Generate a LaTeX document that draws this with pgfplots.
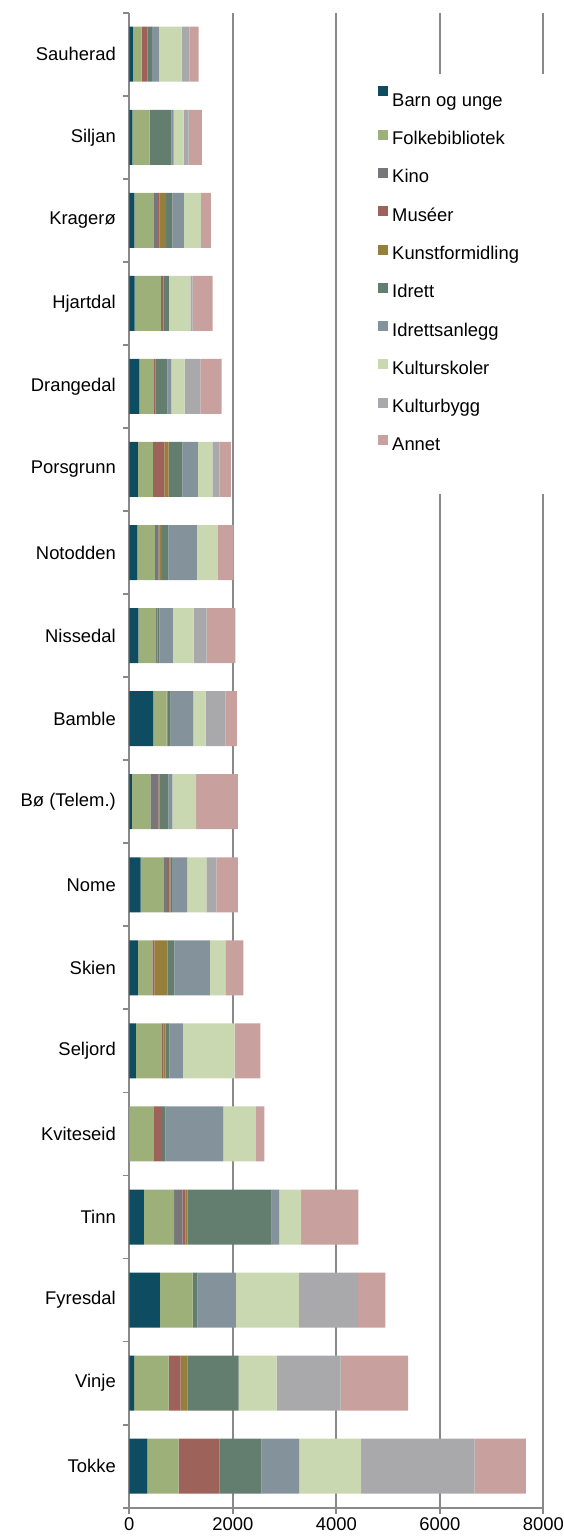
\documentclass[border=0pt]{standalone}
\usepackage{fontspec}
\setmainfont{Liberation Sans}
\usepackage{pgfplots}
\pgfplotsset{compat=1.18}
\usepackage{pgfplotstable}
\definecolor{cBarn}{RGB}{14,76,98}
\definecolor{cFolk}{RGB}{157,176,121}
\definecolor{cKino}{RGB}{119,119,121}
\definecolor{cMus}{RGB}{157,98,90}
\definecolor{cKunst}{RGB}{149,127,59}
\definecolor{cIdr}{RGB}{99,125,111}
\definecolor{cAnl}{RGB}{132,146,156}
\definecolor{cSkol}{RGB}{202,216,178}
\definecolor{cBygg}{RGB}{169,169,171}
\definecolor{cAnn}{RGB}{200,160,157}
\definecolor{axgray}{RGB}{137,137,137}

\pgfplotstableread{
y barn folk kino mus kunst idr anl skol bygg ann
0 348 606 0 785 0 811 734 1198 2191 991
1 91 670 0 232 128 993 0 734 1236 1306
2 593 632 0 0 0 89 747 1218 1145 522
3 284 580 160 66 38 1623 143 425 0 1107
4 0 464 0 168 0 64 1120 632 0 160
5 129 489 0 39 39 77 264 999 0 495
6 168 276 0 39 259 127 690 296 0 348
7 220 450 58 45 20 32 290 373 193 419
8 52 354 154 25 13 156 77 458 0 811
9 458 264 0 20 0 58 437 239 379 226
10 174 342 25 0 0 39 264 400 251 553
11 155 341 70 20 45 122 555 406 0 303
12 168 289 0 219 82 266 303 276 136 226
13 193 271 0 46 0 224 77 259 302 413
14 104 508 0 52 0 103 0 412 46 386
15 97 380 77 26 129 122 226 328 0 193
16 58 336 0 0 0 417 46 193 97 257
17 71 169 0 108 0 90 135 439 148 181
}\data

\newcommand{\legw}[1]{\makebox[160pt][l]{\rule{0pt}{25pt}#1}}

\begin{document}
\begin{tikzpicture}
\begin{axis}[
  name=a,
  scale only axis,
  width=414pt, height=1495pt,
  xbar stacked,
  bar width=55pt,
  xmin=0, xmax=8000,
  ymin=-0.5, ymax=17.5,
  xtick={0,2000,...,8000},
  ytick={0,...,17},
  yticklabels={Tokke,Vinje,Fyresdal,Tinn,Kviteseid,Seljord,Skien,Nome,Bø (Telem.),Bamble,Nissedal,Notodden,Porsgrunn,Drangedal,Hjartdal,Kragerø,Siljan,Sauherad},
  minor ytick={-0.5,0.5,...,17.5},
  tick align=outside,
  major tick length=6pt,
  minor tick length=6pt,
  major y tick style={draw=none},
  axis x line*=bottom,
  axis y line*=left,
  axis line style={-, draw=axgray, line width=1.8pt},
  tick style={draw=axgray, line width=1.8pt},
  xmajorgrids,
  major x grid style={draw=axgray, line width=1.8pt},
  /pgf/number format/assume math mode=true,
  /pgf/number format/1000 sep={},
  ticklabel style={font=\fontsize{18.4}{22}\selectfont, text=black},
  yticklabel style={xshift=-4pt},
  legend style={
    at={(0.596,0.9590)}, anchor=north west,
    draw=none, fill=white,
    font=\fontsize{18.4}{22}\selectfont,
    row sep=19.4pt,
    inner xsep=2pt, inner ysep=0pt,
    legend cell align=left,
  },
  legend image code/.code={\path[draw=none,fill=none] (0pt,0pt) -- (12pt,0pt);\fill[#1,draw=none] (0pt,-1pt) rectangle (10pt,9pt);},
]
\addplot[fill=cBarn, draw=none, legend image code/.code={\path[draw=none,fill=none] (0pt,0pt) -- (12pt,0pt);\path[draw=none,fill=none] (0pt,20.5pt) -- (0pt,-1pt);\fill[##1,draw=none] (0pt,-1pt) rectangle (10pt,9pt);}] table[x=barn, y=y] {\data};
\addlegendentry{\legw{Barn og unge}}
\addplot[fill=cFolk, draw=none] table[x=folk, y=y] {\data};
\addlegendentry{Folkebibliotek}
\addplot[fill=cKino, draw=none] table[x=kino, y=y] {\data};
\addlegendentry{Kino}
\addplot[fill=cMus, draw=none] table[x=mus, y=y] {\data};
\addlegendentry{Muséer}
\addplot[fill=cKunst, draw=none] table[x=kunst, y=y] {\data};
\addlegendentry{Kunstformidling}
\addplot[fill=cIdr, draw=none] table[x=idr, y=y] {\data};
\addlegendentry{Idrett}
\addplot[fill=cAnl, draw=none] table[x=anl, y=y] {\data};
\addlegendentry{Idrettsanlegg}
\addplot[fill=cSkol, draw=none] table[x=skol, y=y] {\data};
\addlegendentry{Kulturskoler}
\addplot[fill=cBygg, draw=none] table[x=bygg, y=y] {\data};
\addlegendentry{Kulturbygg}
\addplot[fill=cAnn, draw=none] table[x=ann, y=y] {\data};
\addlegendentry{Annet}
\addlegendimage{empty legend}
\addlegendentry{\strut}
\end{axis}
\pgfresetboundingbox
\path ([xshift=-129.3pt, yshift=-29.3pt]a.south west) rectangle ([xshift=20.7pt, yshift=12.7pt]a.north east);
\end{tikzpicture}
\end{document}
